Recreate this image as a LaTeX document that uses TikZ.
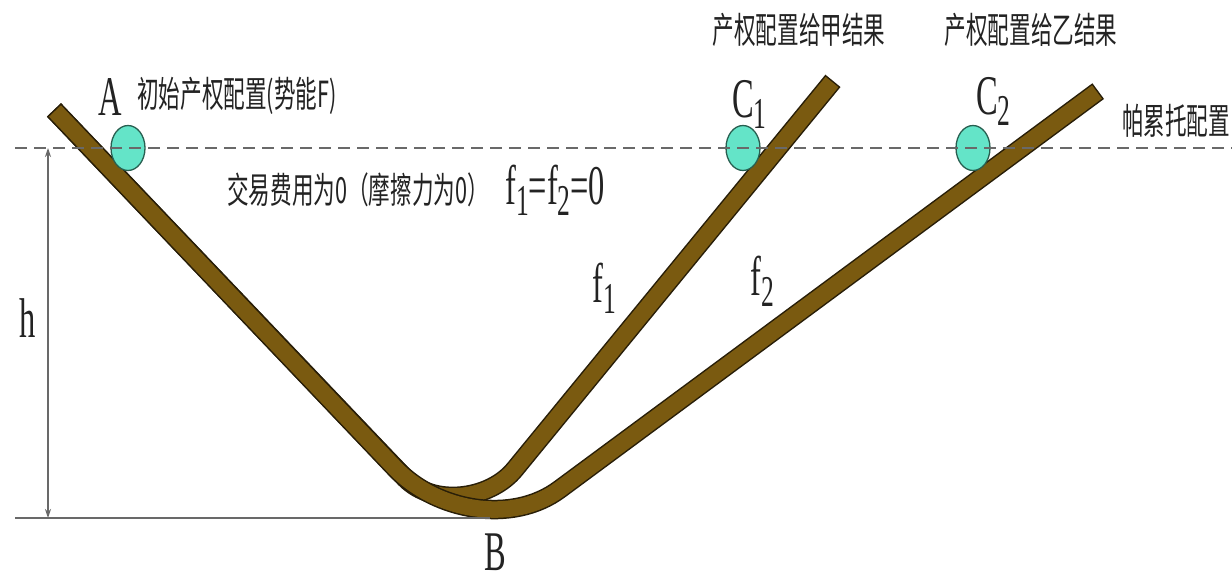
\documentclass[tikz,border=0pt]{standalone}
\usepackage{fontspec}
\setmainfont{Liberation Serif}
\newfontfamily\cjk[FakeStretch=0.6]{Noto Sans CJK SC}
\newfontfamily\lat[FakeStretch=0.58]{Liberation Serif}
\usetikzlibrary{arrows.meta,shapes.geometric}
\definecolor{rodfill}{RGB}{122,90,16}
\definecolor{rodedge}{RGB}{40,30,8}
\definecolor{ballfill}{RGB}{100,228,200}
\definecolor{balledge}{RGB}{40,95,80}
\definecolor{guide}{RGB}{105,105,105}
\definecolor{ink}{RGB}{35,35,35}
\newcommand{\mysub}[1]{\raisebox{-11pt}{\fontsize{44}{44}\selectfont #1}}
\tikzset{
  rodout/.style={draw=rodedge,line width=19.5pt,line join=round,shorten <=-1.5pt,shorten >=-1.5pt},
  rodin/.style={draw=rodfill,line width=16.5pt,line join=round},
  ball/.style={ellipse,draw=balledge,line width=1.3pt,fill=ballfill,minimum width=34pt,minimum height=45pt,inner sep=0pt},
  guideline/.style={draw=guide,line width=1.5pt},
  dashedline/.style={guideline,dash pattern=on 12pt off 7pt},
  cjktext/.style={text=ink,font=\cjk\fontsize{36}{36}\selectfont,inner sep=0pt},
  lattext/.style={text=ink,font=\lat\fontsize{56}{56}\selectfont,inner sep=0pt,anchor=base west},
}
\begin{document}
\begin{tikzpicture}[x=1pt,y=-1pt]
\useasboundingbox (0,0) rectangle (1232,580);
\fill[white] (0,0) rectangle (1232,580);

% key points
\coordinate (Atop) at (55,111);
\coordinate (C1top) at (832,82);
\coordinate (C2top) at (1097,92);
\coordinate (dl) at (15,148);
\coordinate (dr) at (1232,148);
\coordinate (bl) at (15,518);
\coordinate (br) at (490,518);
\coordinate (hT) at (48,148);
\coordinate (hB) at (48,518);

% rod to C1 (f1)
\draw[rodout] (Atop) -- (405,478) .. controls (433,507) and (490,500) .. (515,469) -- (C1top);
\draw[rodin] (Atop) -- (405,478) .. controls (433,507) and (490,500) .. (515,469) -- (C1top);
% rod to C2 (f2)
\draw[rodout] (Atop) -- (395,468) .. controls (436,511) and (512,525) .. (560,489) -- (C2top);
\draw[rodin] (Atop) -- (395,468) .. controls (436,511) and (512,525) .. (560,489) -- (C2top);

% balls
\node[ball] (ballA) at (128,148) {};
\node[ball] (ballC1) at (743,148) {};
\node[ball] (ballC2) at (973,148) {};

% guide lines
\draw[dashedline] (dl) -- (dr);
\draw[guideline] (bl) -- (br);
\draw[draw=guide,line width=1.2pt,{Stealth[length=9pt,width=6pt]}-{Stealth[length=9pt,width=6pt]}] (hT) -- (hB);

% labels
\node[lattext] (lA) at (98,116) {A};
\node[lattext] (lB) at (484,570) {B};
\node[lattext] (lh) at (19,337) {h};
\node[lattext] (lC1) at (732,118) {C\mysub{1}};
\node[lattext] (lC2) at (976,115) {C\mysub{2}};
\node[lattext] (lf1) at (592,302) {f\mysub{1}};
\node[lattext] (lf2) at (750,295) {f\mysub{2}};
\node[lattext] (lf0) at (505,205) {f\mysub{1}=f\mysub{2}=0};

\node[cjktext] (tA) at (237,96) {初始产权配置(势能F)};
\node[cjktext] (tC1) at (799,30) {产权配置给甲结果};
\node[cjktext] (tC2) at (1031,30) {产权配置给乙结果};
\node[cjktext] (tP) at (1176,121) {帕累托配置};
\node[cjktext] (tT) at (358,190) {交易费用为0（摩擦力为0）};
\end{tikzpicture}
\end{document}
